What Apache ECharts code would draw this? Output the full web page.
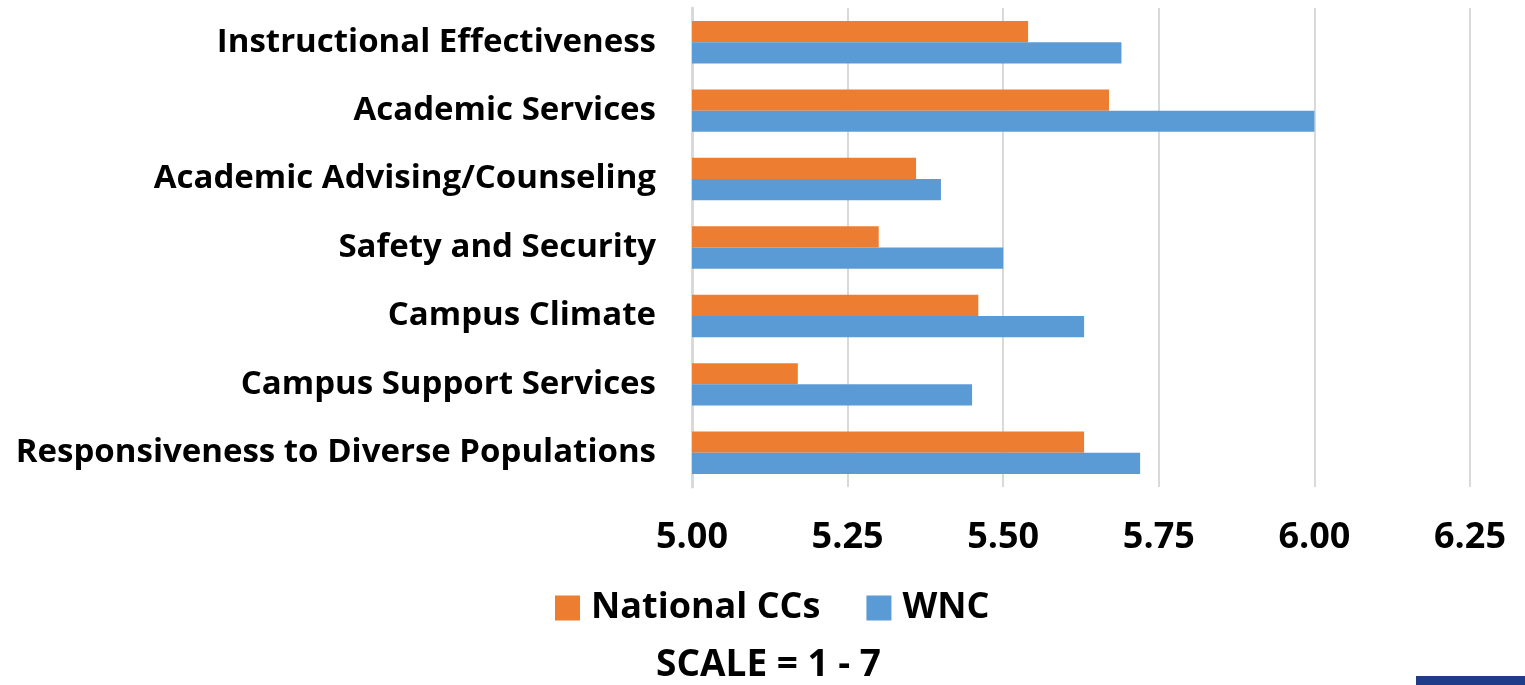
<!DOCTYPE html>
<html>
<head>
<meta charset="utf-8">
<script src="https://cdn.jsdelivr.net/npm/echarts@6/dist/echarts.min.js"></script>
<style>html,body{margin:0;padding:0;background:#fff}#c{width:1525px;height:685px}</style>
</head>
<body>
<div id="c"></div>
<script>
const categories = ["Instructional Effectiveness","Academic Services","Academic Advising/Counseling","Safety and Security","Campus Climate","Campus Support Services","Responsiveness to Diverse Populations"];
const nationalCCs = [5.54, 5.67, 5.36, 5.30, 5.46, 5.17, 5.63];
const wnc = [5.69, 6.00, 5.40, 5.50, 5.63, 5.45, 5.72];
const seriesNames = ["National CCs", "WNC"];
const footnote = "SCALE = 1 - 7";

const FONT = "'Open Sans', sans-serif";
const chart = echarts.init(document.getElementById('c'));
chart.setOption({
  animation: false,
  grid: {left: 692, right: 55, top: 8, bottom: 198, containLabel: false},
  xAxis: {
    type: 'value', min: 5, max: 6.25, interval: 0.25,
    axisLine: {show: false}, axisTick: {show: false},
    splitLine: {lineStyle: {color: '#d9d9d9', width: 2}},
    axisLabel: {formatter: v => v.toFixed(2), fontFamily: FONT, fontWeight: 'bold', fontSize: 36, color: '#000', margin: 33}
  },
  yAxis: {
    type: 'category', data: categories, inverse: true,
    axisLine: {show: true, lineStyle: {color: '#d9d9d9', width: 3}},
    axisTick: {show: false},
    axisLabel: {fontFamily: FONT, fontWeight: 'bold', fontSize: 33, color: '#000', margin: 36}
  },
  legend: {
    top: 590, left: 555, itemWidth: 25, itemHeight: 25, itemGap: 46,
    icon: 'rect', padding: 0,
    textStyle: {fontFamily: FONT, fontWeight: 'bold', fontSize: 36, color: '#000', padding: [0, 0, 0, 6]},
    data: seriesNames
  },
  title: {
    text: footnote, left: 656, top: 647, padding: 0,
    textStyle: {fontFamily: FONT, fontWeight: 'bold', fontSize: 37, color: '#000'}
  },
  graphic: [{type: 'rect', right: 0, bottom: 0, shape: {width: 109, height: 9}, style: {fill: '#1f3c88'}}],
  series: [
    {name: seriesNames[0], type: 'bar', data: nationalCCs, itemStyle: {color: '#ed7d31'}, barGap: '0%', barCategoryGap: '38%'},
    {name: seriesNames[1], type: 'bar', data: wnc, itemStyle: {color: '#5b9bd5'}, barGap: '0%', barCategoryGap: '38%'}
  ]
});
</script>
</body>
</html>
